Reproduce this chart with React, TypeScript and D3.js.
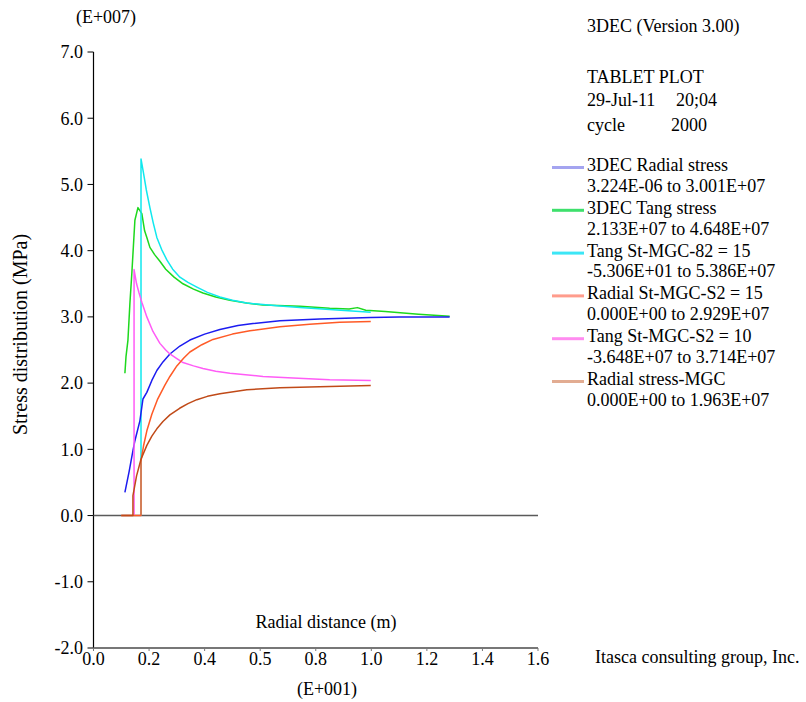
import * as d3 from 'd3'
import React from 'react'

// x in E+001 m, y in E+007 Pa
const xTicks = [0, 0.2, 0.4, 0.6, 0.8, 1.0, 1.2, 1.4, 1.6]
const xTickLabels = ['0.0', '0.2', '0.4', '0.5', '0.8', '1.0', '1.2', '1.4', '1.6']
const yTicks = [-2, -1, 0, 1, 2, 3, 4, 5, 6, 7]
const yTickLabels = ['-2.0', '-1.0', '0.0', '1.0', '2.0', '3.0', '4.0', '5.0', '6.0', '7.0']

const radial3dec: [number, number][] = [
  [0.113, 0.35], [0.128, 0.66], [0.142, 0.98], [0.149, 1.13], [0.167, 1.43], [0.178, 1.76],
  [0.192, 1.86], [0.21, 2.04], [0.228, 2.19], [0.25, 2.32], [0.275, 2.44], [0.311, 2.56],
  [0.347, 2.65], [0.4, 2.74], [0.455, 2.81], [0.52, 2.87], [0.574, 2.9], [0.671, 2.94],
  [0.815, 2.97], [0.998, 2.99], [1.1, 3.0], [1.282, 3.0],
]
const tang3dec: [number, number][] = [
  [0.113, 2.15], [0.117, 2.4], [0.124, 2.65], [0.131, 3.2], [0.138, 3.66], [0.149, 4.46],
  [0.16, 4.65], [0.174, 4.56], [0.184, 4.3], [0.192, 4.2], [0.203, 4.05], [0.22, 3.94],
  [0.239, 3.84], [0.26, 3.72], [0.29, 3.6], [0.322, 3.5], [0.36, 3.42], [0.394, 3.36],
  [0.44, 3.3], [0.491, 3.25], [0.55, 3.21], [0.61, 3.18], [0.743, 3.16], [0.85, 3.13],
  [0.92, 3.12], [0.95, 3.14], [0.98, 3.1], [1.05, 3.08], [1.17, 3.04], [1.282, 3.01],
]
const tangMgc82: [number, number][] = [
  [0.171, 0], [0.171, 5.386], [0.18, 5.17], [0.19, 4.92], [0.203, 4.65], [0.215, 4.42],
  [0.228, 4.2], [0.245, 4.02], [0.264, 3.86], [0.285, 3.72], [0.311, 3.6], [0.34, 3.52],
  [0.372, 3.45], [0.41, 3.37], [0.455, 3.3], [0.5, 3.25], [0.552, 3.21], [0.6, 3.19],
  [0.66, 3.17], [0.743, 3.14], [0.85, 3.11], [0.998, 3.07],
]
const radialMgcS2: [number, number][] = [
  [0.1, 0], [0.171, 0], [0.171, 0.83], [0.18, 1.05], [0.192, 1.28], [0.21, 1.53],
  [0.23, 1.75], [0.257, 1.97], [0.275, 2.1], [0.3, 2.26], [0.325, 2.38], [0.347, 2.47],
  [0.39, 2.58], [0.43, 2.66], [0.5, 2.74], [0.563, 2.79], [0.671, 2.85], [0.778, 2.89],
  [0.886, 2.92], [0.998, 2.93],
]
const tangMgcS2: [number, number][] = [
  [0.146, 0], [0.146, 3.714], [0.155, 3.5], [0.164, 3.36], [0.174, 3.22], [0.192, 3.0],
  [0.214, 2.78], [0.239, 2.6], [0.26, 2.5], [0.275, 2.44], [0.3, 2.37], [0.322, 2.31],
  [0.36, 2.26], [0.394, 2.22], [0.44, 2.18], [0.491, 2.15], [0.61, 2.1], [0.7, 2.08],
  [0.85, 2.05], [0.998, 2.04],
]
const radialMgc: [number, number][] = [
  [0.1, 0], [0.142, 0], [0.142, 0.3], [0.155, 0.6], [0.171, 0.85], [0.192, 1.06],
  [0.21, 1.2], [0.228, 1.31], [0.25, 1.42], [0.275, 1.52], [0.31, 1.62], [0.34, 1.69],
  [0.372, 1.75], [0.41, 1.8], [0.455, 1.84], [0.552, 1.9], [0.671, 1.93], [0.85, 1.95],
  [0.998, 1.963],
]

const seriesData = [radial3dec, tang3dec, tangMgc82, radialMgcS2, tangMgcS2, radialMgc]
const seriesNames = [
  '3DEC Radial stress', '3DEC Tang stress', 'Tang St-MGC-82 = 15',
  'Radial St-MGC-S2 = 15', 'Tang St-MGC-S2 = 10', 'Radial stress-MGC',
]
const seriesRanges = [
  '3.224E-06 to 3.001E+07', '2.133E+07 to 4.648E+07', '-5.306E+01 to 5.386E+07',
  '0.000E+00 to 2.929E+07', '-3.648E+07 to 3.714E+07', '0.000E+00 to 1.963E+07',
]
const lineColors = ['#1c1cf0', '#1ed81e', '#10e8ee', '#ff5a26', '#ff5cf6', '#c04a18']
const swatchColors = ['#a4a4f0', '#3ee06c', '#3ce6f6', '#ff9c8c', '#ff8cf0', '#e2ac92']
// drawing order: back to front
const drawOrder = [1, 2, 0, 4, 3, 5]

const App = () => {
  const width = 806
  const height = 702
  const x = d3.scaleLinear().domain([0, 1.6]).range([93.5, 538])
  const y = d3.scaleLinear().domain([-2, 7]).range([648, 52])
  const line = d3.line<[number, number]>().x(d => x(d[0])).y(d => y(d[1]))
  const font = 'Liberation Serif, DejaVu Serif, serif'

  return (
    <svg width={width} height={height} style={{ position: 'absolute', left: 0, top: 0, background: '#fff', fontFamily: font }}>
      <rect width={width} height={height} fill='#fff' />

      {/* y axis */}
      <line x1={x(0)} x2={x(0)} y1={y(7)} y2={y(-2)} stroke='#000' strokeWidth={1.2} />
      {yTicks.map((t, i) => (
        <g key={t} transform={`translate(0,${y(t)})`}>
          <line x1={x(0) - 6} x2={x(0)} stroke='#000' />
          <text x={83} dy='0.35em' textAnchor='end' fontSize={18}>{yTickLabels[i]}</text>
        </g>
      ))}
      <text transform={`translate(27,435) rotate(-90)`} textAnchor='start' fontSize={20}>
        Stress distribution (MPa)
      </text>
      <text x={106} y={23} textAnchor='middle' fontSize={18}>(E+007)</text>

      {/* zero line */}
      <line x1={x(0)} x2={x(1.6)} y1={y(0)} y2={y(0)} stroke='#5a5a5a' strokeWidth={1.6} />

      {/* x axis */}
      <line x1={x(0)} x2={x(1.6)} y1={y(-2)} y2={y(-2)} stroke='#777' strokeWidth={1.8} />
      {xTicks.map((t, i) => (
        <g key={t} transform={`translate(${x(t)},${y(-2)})`}>
          <line y1={0} y2={3} stroke='#777' />
          <text y={17} textAnchor='middle' fontSize={18}>{xTickLabels[i]}</text>
        </g>
      ))}
      <text x={326} y={628} textAnchor='middle' fontSize={18}>Radial distance (m)</text>
      <text x={327} y={695} textAnchor='middle' fontSize={18}>(E+001)</text>

      {/* series */}
      {drawOrder.map(i => (
        <path key={i} d={line(seriesData[i]) ?? ''} fill='none' stroke={lineColors[i]}
          strokeWidth={1.5} strokeLinejoin='round' />
      ))}

      {/* header */}
      <g fontSize={18}>
        <text x={587} y={32}>3DEC (Version 3.00)</text>
        <text x={587} y={83}>TABLET PLOT</text>
        <text x={587} y={106}>29-Jul-11</text>
        <text x={676} y={106}>20;04</text>
        <text x={587} y={131}>cycle</text>
        <text x={671} y={131}>2000</text>
      </g>

      {/* legend */}
      <g fontSize={18}>
        {seriesNames.map((name, i) => {
          const base = 171 + i * 42.8
          return (
            <g key={name}>
              <line x1={552} x2={584} y1={base - 3.5} y2={base - 3.5} stroke={swatchColors[i]} strokeWidth={3} />
              <text x={587} y={base}>{name}</text>
              <text x={587} y={base + 20.8}>{seriesRanges[i]}</text>
            </g>
          )
        })}
      </g>

      <text x={595} y={663} fontSize={18}>Itasca consulting group, Inc.</text>
    </svg>
  )
}

export default App
